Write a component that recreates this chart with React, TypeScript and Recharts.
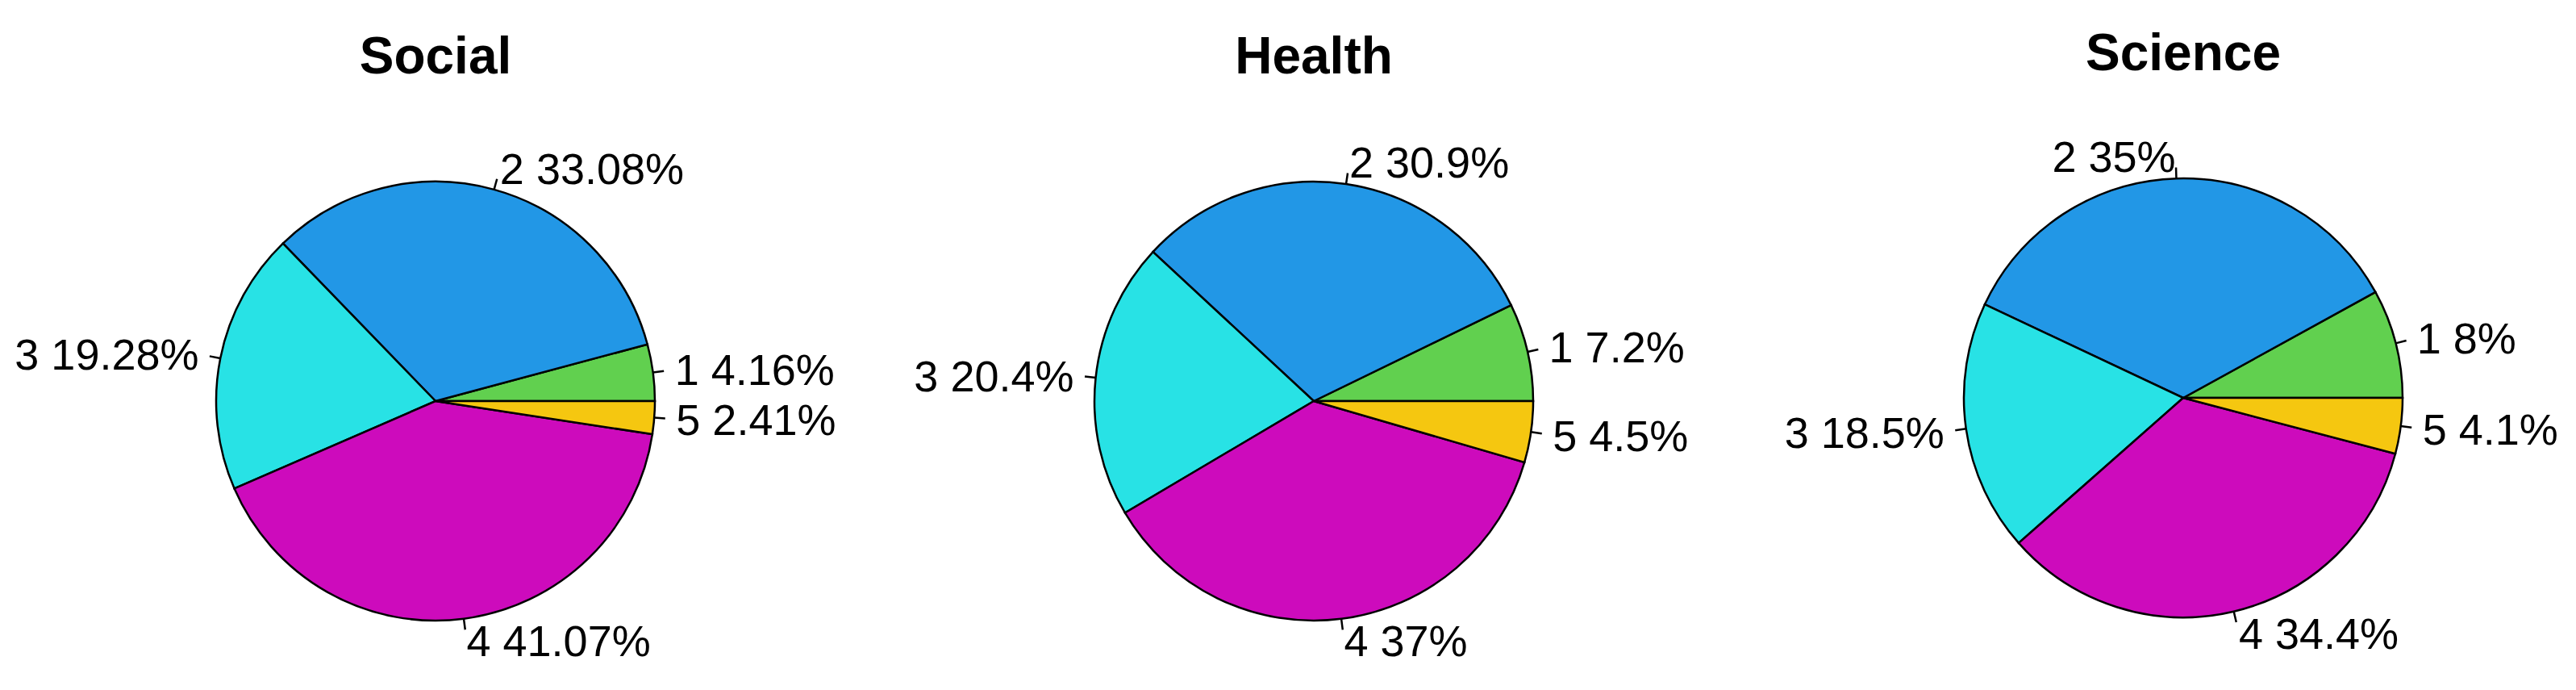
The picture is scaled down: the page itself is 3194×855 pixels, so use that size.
import React from "react";
import { PieChart, Pie, Cell } from "recharts";

const groups = ["1", "2", "3", "4", "5"];
const socialValues = [4.16, 33.08, 19.28, 41.07, 2.41];
const healthValues = [7.2, 30.9, 20.4, 37, 4.5];
const scienceValues = [8, 35, 18.5, 34.4, 4.1];
const titles = ["Social", "Health", "Science"];

const colors = ["#61D04F", "#2297E6", "#28E2E5", "#CD0BBC", "#F5C710"];

const RAD = Math.PI / 180;
const CHART_W = 1064;
const CHART_H = 855;

// pie centres (px, inside each chart box)
const panels = [
  { left: 0, cx: 540, cy: 497 },
  { left: 1064, cx: 565, cy: 497 },
  { left: 2128, cx: 579, cy: 493 },
];

const toRows = (values: number[]) => groups.map((g, i) => ({ name: g, value: values[i] }));

// R style labels: short tick from r to 1.05r, text at 1.1r
const renderLabel = (props: any) => {
  const { cx, cy, midAngle, outerRadius, name, value } = props;
  const c = Math.cos(-midAngle * RAD);
  const s = Math.sin(-midAngle * RAD);
  const x1 = cx + outerRadius * c;
  const y1 = cy + outerRadius * s;
  const x2 = cx + outerRadius * 1.05 * c;
  const y2 = cy + outerRadius * 1.05 * s;
  const tx = cx + outerRadius * 1.1 * c;
  const ty = cy + outerRadius * 1.1 * s;
  return (
    <g>
      <line x1={x1} y1={y1} x2={x2} y2={y2} stroke="#000" strokeWidth={2.5} />
      <text
        x={tx}
        y={ty}
        dy="0.36em"
        textAnchor={c < 0 ? "end" : "start"}
        fontFamily="'Liberation Sans', Arial, sans-serif"
        fontSize={54}
        fill="#000"
      >
        {`${name} ${value}%`}
      </text>
    </g>
  );
};

const PiePanel = ({ values, title, left, cx, cy }: any) => (
  <div style={{ position: "absolute", left, top: 0, width: CHART_W, height: CHART_H }}>
    <PieChart width={CHART_W} height={CHART_H} margin={{ top: 0, right: 0, bottom: 0, left: 0 }}>
      <Pie
        data={toRows(values)}
        dataKey="value"
        nameKey="name"
        cx={cx}
        cy={cy}
        outerRadius={272}
        innerRadius={0}
        startAngle={0}
        endAngle={360}
        stroke="#000"
        strokeWidth={2.5}
        label={renderLabel}
        labelLine={false}
        isAnimationActive={false}
      >
        {values.map((_: number, i: number) => (
          <Cell key={i} fill={colors[i]} />
        ))}
      </Pie>
    </PieChart>
    <svg
      width={CHART_W}
      height={CHART_H}
      style={{ position: "absolute", left: 0, top: 0, pointerEvents: "none" }}
    >
      <text
        x={cx}
        y={cy - 406}
        textAnchor="middle"
        fontFamily="'Liberation Sans', Arial, sans-serif"
        fontWeight="bold"
        fontSize={64}
        fill="#000"
      >
        {title}
      </text>
    </svg>
  </div>
);

export default function App() {
  const all = [socialValues, healthValues, scienceValues];
  return (
    <div
      style={{
        position: "absolute",
        left: 0,
        top: 0,
        width: 3194,
        height: 855,
        background: "#fff",
        overflow: "hidden",
      }}
    >
      {panels.map((p, i) => (
        <PiePanel key={titles[i]} values={all[i]} title={titles[i]} left={p.left} cx={p.cx} cy={p.cy} />
      ))}
    </div>
  );
}
